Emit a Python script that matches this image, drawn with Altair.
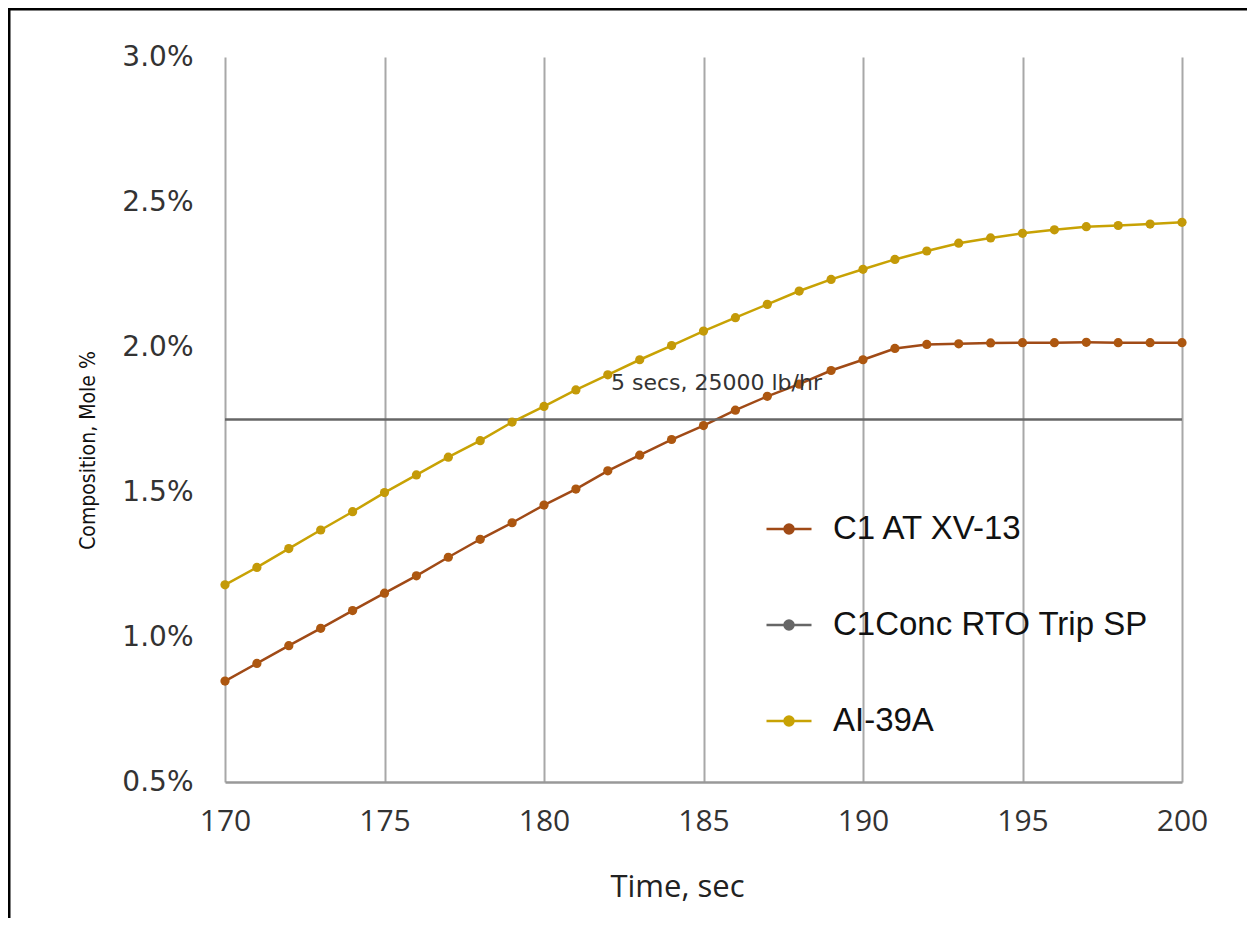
import altair as alt
import pandas as pd

# ---- data ----
times = list(range(170, 201))
c1_at_xv13 = [0.848, 0.909, 0.970, 1.030, 1.091, 1.151, 1.211, 1.275, 1.337, 1.394,
              1.455, 1.510, 1.573, 1.627, 1.681, 1.729, 1.782, 1.830, 1.872, 1.919,
              1.956, 1.995, 2.009, 2.011, 2.014, 2.015, 2.015, 2.016, 2.015, 2.015, 2.015]
ai_39a = [1.180, 1.240, 1.305, 1.369, 1.432, 1.498, 1.559, 1.620, 1.677, 1.741,
          1.795, 1.852, 1.904, 1.956, 2.005, 2.055, 2.101, 2.147, 2.193, 2.233,
          2.268, 2.302, 2.331, 2.358, 2.376, 2.392, 2.404, 2.415, 2.419, 2.424, 2.430]
trip_times = [170, 200]
trip_sp = [1.75, 1.75]

series_names = ["C1 AT XV-13", "C1Conc RTO Trip SP", "AI-39A"]
line_colors = ["#A04A16", "#666666", "#C8A204"]
point_colors = ["#AD5710", "#777777", "#C49A08"]

x_ticks = [170, 175, 180, 185, 190, 195, 200]
y_ticks = [0.5, 1.0, 1.5, 2.0, 2.5, 3.0]

annot_text = ["5 secs, 25000 lb/hr"]
annot_x = [182.1]
annot_y = [1.876]

# ---- tables ----
rows = []
for t, v in zip(times, c1_at_xv13):
    rows.append({"series": series_names[0], "time": t, "value": v})
for t, v in zip(trip_times, trip_sp):
    rows.append({"series": series_names[1], "time": t, "value": v})
for t, v in zip(times, ai_39a):
    rows.append({"series": series_names[2], "time": t, "value": v})
df = pd.DataFrame(rows)
df_pts = df[df["series"] != series_names[1]]
df_ann = pd.DataFrame({"text": annot_text, "time": annot_x, "value": annot_y})

x_enc = alt.X(
    "time:Q",
    scale=alt.Scale(domain=[170, 200], nice=False, zero=False),
    axis=alt.Axis(
        values=x_ticks, grid=True, gridColor="#A8A8A8", gridWidth=2,
        ticks=False, domain=True, domainColor="#999999", domainWidth=2.5,
        labelFont="Open Sans", labelFontSize=30, labelColor="#333333",
        labelPadding=24, labelFlush=False,
        title="Time, sec", titleFont="Open Sans", titleFontSize=31,
        titleFontWeight="normal", titleColor="#222222",
        titleX=452, titleY=105, titleBaseline="middle",
    ),
)
y_enc = alt.Y(
    "value:Q",
    scale=alt.Scale(domain=[0.5, 3.0], nice=False, zero=False),
    axis=alt.Axis(
        values=y_ticks, grid=False, ticks=False, domain=False,
        labelExpr="format(datum.value, '.1f') + '%'",
        labelFont="DejaVu Sans", labelFontSize=28, labelColor="#333333",
        labelPadding=32, labelFlush=False,
        title="Composition, Mole %",
        titleFont="DejaVu Sans Condensed, Liberation Sans",
        titleFontSize=21, titleFontWeight="normal", titleColor="#111111",
        titleX=-137, titleY=393, titleAlign="center", titleBaseline="middle",
        titleAngle=270,
    ),
)

sym_path = ("M-1,0H1"
            "M0.2,0A0.2,0.2,0,1,1,-0.2,0A0.2,0.2,0,1,1,0.2,0"
            "M0.13,0A0.13,0.13,0,1,1,-0.13,0A0.13,0.13,0,1,1,0.13,0"
            "M0.06,0A0.06,0.06,0,1,1,-0.06,0A0.06,0.06,0,1,1,0.06,0")

lines = alt.Chart(df).mark_line(strokeWidth=2.5).encode(
    x=x_enc,
    y=y_enc,
    color=alt.Color(
        "series:N",
        scale=alt.Scale(domain=series_names, range=line_colors),
        sort=series_names,
        legend=alt.Legend(
            title=None, orient="none", legendX=540, legendY=448,
            symbolType=sym_path, symbolSize=2025, symbolStrokeWidth=2.5,
            labelFont="Liberation Sans", labelFontSize=33, labelColor="#111111",
            labelOffset=20, rowPadding=55, padding=0, labelLimit=600,
        ),
    ),
)

points = alt.Chart(df_pts).mark_circle(size=85, opacity=1).encode(
    x="time:Q",
    y="value:Q",
    color=alt.Color(
        "series:N",
        scale=alt.Scale(domain=series_names, range=point_colors),
        legend=None,
    ),
)

annot = alt.Chart(df_ann).mark_text(
    align="left", baseline="middle", font="DejaVu Sans", fontSize=22,
    color="#333333",
).encode(x="time:Q", y="value:Q", text="text:N")

frame_top = alt.Chart(df_ann).mark_rule(color="#000000", strokeWidth=3).encode(
    x=alt.value(-217), x2=alt.value(1035), y=alt.value(-48)
)
frame_left = alt.Chart(df_ann).mark_rule(color="#000000", strokeWidth=3).encode(
    x=alt.value(-216), y=alt.value(-49), y2=alt.value(880)
)

chart = (
    alt.layer(lines, points, annot, frame_top, frame_left)
    .resolve_scale(color="independent")
    .properties(
        width=957, height=725,
        padding={"left": 217, "top": 49, "right": 65, "bottom": 136},
        autosize=alt.AutoSizeParams(type="none"),
        background="white",
    )
    .configure_view(stroke=None)
)

chart.save("out.html", embed_options={"renderer": "svg", "actions": False})
